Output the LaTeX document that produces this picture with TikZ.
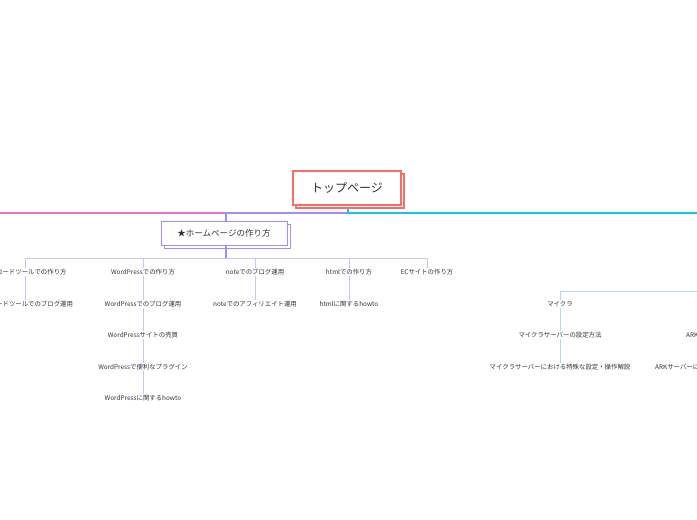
\documentclass[tikz,border=0pt]{standalone}
\usepackage{fontspec}
\setmainfont{Noto Sans CJK JP}
\usetikzlibrary{positioning}
\definecolor{rootred}{RGB}{248, 110, 100}
\definecolor{homepurple}{RGB}{160, 140, 250}
\definecolor{lightpurple}{RGB}{205, 195, 252}
\definecolor{pinkline}{RGB}{228, 120, 200}
\definecolor{cyanline}{RGB}{20, 200, 225}
\definecolor{lightblue}{RGB}{175, 215, 250}
\definecolor{textgray}{RGB}{50, 50, 50}
\tikzset{
  leaf/.style={font=\fontsize{6.4}{7}\selectfont, text=textgray, inner sep=1pt},
  topic/.style={draw, line width=1.2pt, fill=white, inner sep=0pt, text=textgray},
}
\begin{document}
\begin{tikzpicture}[x=1pt, y=-1pt]
  \useasboundingbox (0,0) rectangle (697,520);
  \clip (0,0) rectangle (697,520);

  % main branches
  \draw[pinkline, line width=1.5pt] (0,213) -- (226,213);
  \draw[homepurple, line width=1.5pt] (226,213) -- (348,213);
  \draw[cyanline, line width=1.5pt] (348,213) -- (697,213);
  \draw[cyanline, line width=1.5pt] (348,205) -- (348,213);

  % root
  \fill[white, draw=rootred, line width=1.2pt] (296,174) rectangle (404,208);
  \node[topic, draw=rootred, minimum width=108pt, minimum height=34pt, font=\fontsize{12}{14}\selectfont] (top) at (347,188) {トップページ};

  % homepage topic
  \fill[white, draw=homepurple, line width=1pt] (164,224) rectangle (290,248);
  \node[topic, draw=homepurple, line width=1pt, minimum width=126pt, minimum height=24pt, font=\fontsize{8.5}{10}\selectfont] (home) at (224,233) {★ホームページの作り方};
  \draw[homepurple, line width=1.5pt] (226,213) -- (home.north -| 226,0);
  \draw[homepurple, line width=1.5pt] (home.south -| 226,0) -- (226,258);

  % children of homepage
  \draw[lightpurple, line width=1pt] (25,258) -- (427,258);
  \node[leaf] (nocode)  at (25,272)  {ノーコードツールでの作り方};
  \node[leaf] (wp)      at (143,272) {WordPressでの作り方};
  \node[leaf] (note)    at (255,272) {noteでのブログ運用};
  \node[leaf] (html)    at (349,272) {htmlでの作り方};
  \node[leaf] (ec)      at (427,272) {ECサイトの作り方};
  \foreach \n/\x in {nocode/25, wp/143, note/255, html/349, ec/427}
    \draw[lightpurple, line width=1pt] (\x,258) -- (\n.north);

  \node[leaf] (nocodeblog) at (25,304)  {ノーコードツールでのブログ運用};
  \node[leaf] (wpblog)     at (143,304) {WordPressでのブログ運用};
  \node[leaf] (wpsale)     at (143,335) {WordPressサイトの売買};
  \node[leaf] (wpplugin)   at (143,367) {WordPressで便利なプラグイン};
  \node[leaf] (wphowto)    at (143,398) {WordPressに関するhowto};
  \node[leaf] (noteaff)    at (255,304) {noteでのアフィリエイト運用};
  \node[leaf] (htmlhowto)  at (349,304) {htmlに関するhowto};
  \foreach \a/\b in {nocode/nocodeblog, wp/wpblog, wpblog/wpsale, wpsale/wpplugin,
                     wpplugin/wphowto, note/noteaff, html/htmlhowto}
    \draw[lightpurple, line width=1pt] (\a.south) -- (\b.north);

  % game servers
  \draw[lightblue, line width=1pt] (697,291) -- (560,291);
  \node[leaf] (mc)      at (560,304) {マイクラ};
  \node[leaf] (mcset)   at (560,335) {マイクラサーバーの設定方法};
  \node[leaf] (mcspec)  at (560,367) {マイクラサーバーにおける特殊な設定・操作解説};
  \node[leaf, anchor=west] (ark)     at (685,335) {ARKサーバーの設定方法};
  \node[leaf, anchor=west] (arkspec) at (654,367) {ARKサーバーにおける特殊な設定・操作解説};
  \draw[lightblue, line width=1pt] (560,291) -- (mc.north);
  \draw[lightblue, line width=1pt] (mc.south) -- (mcset.north);
  \draw[lightblue, line width=1pt] (mcset.south) -- (mcspec.north);
\end{tikzpicture}
\end{document}
